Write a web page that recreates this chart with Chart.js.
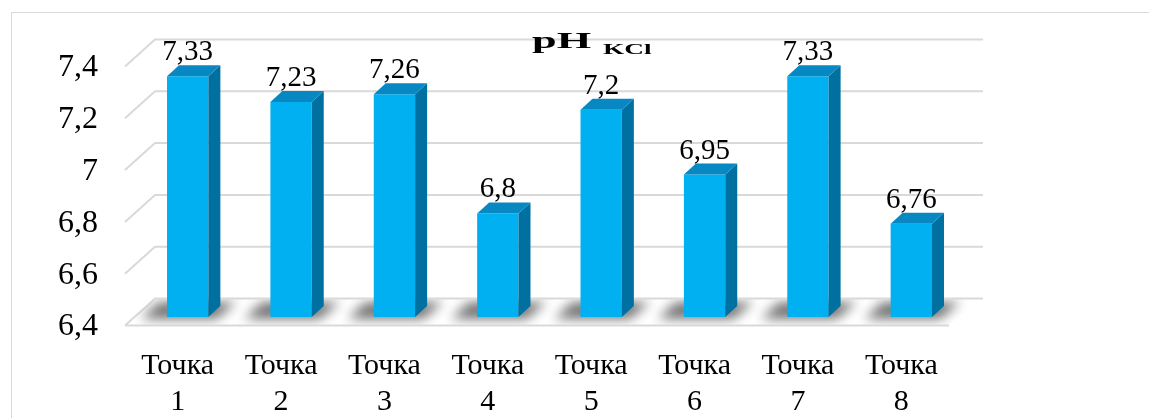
<!DOCTYPE html>
<html><head><meta charset="utf-8">
<script src="https://cdn.jsdelivr.net/npm/chart.js@4/dist/chart.umd.min.js"></script>
<style>html,body{margin:0;padding:0;background:#fff;overflow:hidden;} canvas{display:block;}</style>
</head><body>
<canvas id="c" width="1149" height="418"></canvas>
<script>
const categories = [["Точка","1"],["Точка","2"],["Точка","3"],["Точка","4"],["Точка","5"],["Точка","6"],["Точка","7"],["Точка","8"]];
const phValues = [7.33, 7.23, 7.26, 6.8, 7.2, 6.95, 7.33, 6.76];
const yTicks = [6.4, 6.6, 6.8, 7, 7.2, 7.4];
const titleMain = "pH";
const titleSub = "KCl";

const fmt = v => String(v).replace('.', ',');
const SERIF = '"Liberation Serif", "Times New Roman", serif';

const threeD = {
  id: 'threeD',
  beforeDraw(chart) {
    const ctx = chart.ctx;
    ctx.save();
    ctx.strokeStyle = '#d9d9d9'; ctx.lineWidth = 1;
    ctx.strokeRect(11.5, 12.5, 1300, 600);
    ctx.restore();
  },
  beforeDatasetsDraw(chart) {
    const {ctx, chartArea: a, scales: {y}} = chart;
    ctx.save();
    ctx.strokeStyle = '#d9d9d9'; ctx.lineWidth = 2;
    yTicks.forEach(v => {
      const py = y.getPixelForValue(v);
      const by = py - 18.5, fy = py + 8.5;
      ctx.beginPath();
      ctx.moveTo(a.left - 11, fy); ctx.lineTo(a.left + 19, by); ctx.lineTo(a.right + 20, by);
      ctx.stroke();
    });
    const p0 = y.getPixelForValue(yTicks[0]);
    ctx.beginPath(); ctx.moveTo(a.left - 11, p0 + 8.5); ctx.lineTo(a.right - 14, p0 + 8.5); ctx.stroke();
    // shadows on floor
    ctx.beginPath();
    ctx.moveTo(a.left - 10, p0 + 7.5); ctx.lineTo(a.right - 14, p0 + 7.5);
    ctx.lineTo(a.right + 20, p0 - 17.5); ctx.lineTo(a.left + 19, p0 - 17.5); ctx.closePath();
    ctx.clip();
    const meta = chart.getDatasetMeta(0);
    ctx.filter = 'blur(6px)';
    ctx.fillStyle = 'rgba(0,0,0,0.55)';
    meta.data.forEach(bar => {
      const l = bar.x - bar.width / 2, r = bar.x + bar.width / 2, b = p0;
      ctx.beginPath();
      ctx.moveTo(l - 26, b + 2); ctx.lineTo(r + 8, b + 2);
      ctx.lineTo(r + 28, b - 15); ctx.lineTo(l - 8, b - 15); ctx.closePath();
      ctx.fill();
    });
    ctx.restore();
  },
  afterDatasetsDraw(chart) {
    const {ctx, scales: {y}} = chart;
    const meta = chart.getDatasetMeta(0);
    const p0 = y.getPixelForValue(yTicks[0]);
    const dx = 12, dy = -11;
    ctx.save();
    meta.data.forEach((bar, i) => {
      const l = bar.x - bar.width / 2, r = bar.x + bar.width / 2, t = bar.y, b = p0;
      ctx.fillStyle = '#0070a0';
      ctx.beginPath();
      ctx.moveTo(r, t); ctx.lineTo(r + dx, t + dy); ctx.lineTo(r + dx, b + dy); ctx.lineTo(r, b); ctx.closePath(); ctx.fill();
      ctx.fillStyle = '#0888c2';
      ctx.beginPath();
      ctx.moveTo(l, t); ctx.lineTo(l + dx, t + dy); ctx.lineTo(r + dx, t + dy); ctx.lineTo(r, t); ctx.closePath(); ctx.fill();
      ctx.fillStyle = '#000';
      ctx.font = '29px ' + SERIF;
      ctx.textAlign = 'center'; ctx.textBaseline = 'alphabetic';
      ctx.fillText(fmt(phValues[i]), bar.x, t - 16);
    });
    // title
    ctx.fillStyle = '#000';
    ctx.textAlign = 'left';
    ctx.save();
    ctx.translate(532, 48); ctx.scale(1.85, 1);
    ctx.font = 'bold 24px ' + SERIF;
    ctx.fillText(titleMain, 0, 0);
    ctx.restore();
    ctx.save();
    ctx.translate(603, 54); ctx.scale(1.95, 1);
    ctx.font = 'bold 14px ' + SERIF;
    ctx.fillText(titleSub, 0, 0);
    ctx.restore();
    ctx.restore();
  }
};

new Chart(document.getElementById('c'), {
  type: 'bar',
  data: {
    labels: categories,
    datasets: [{
      data: phValues,
      base: yTicks[0],
      backgroundColor: '#00b0f0',
      borderWidth: 0,
      barPercentage: 0.4,
      categoryPercentage: 1.0
    }]
  },
  options: {
    responsive: false,
    animation: false,
    devicePixelRatio: 1,
    layout: {padding: {left: 0, right: 186, top: 58, bottom: 0}},
    plugins: {legend: {display: false}, tooltip: {enabled: false}, title: {display: false}},
    scales: {
      y: {
        min: 6.4, max: 7.4,
        afterBuildTicks: s => { s.ticks = yTicks.map(v => ({value: v})); },
        afterFit: s => { s.width = 136; },
        grid: {display: false, drawTicks: false},
        border: {display: false},
        ticks: {color: '#000', font: {family: SERIF, size: 32}, padding: 38, labelOffset: 10, callback: v => fmt(v)}
      },
      x: {
        afterFit: s => { s.height = 101; },
        grid: {display: false, drawTicks: false},
        border: {display: false},
        ticks: {color: '#000', font: {family: SERIF, size: 30, lineHeight: 1.2}, padding: 31, labelOffset: -10, maxRotation: 0, autoSkip: false}
      }
    }
  },
  plugins: [threeD]
});
</script>
</body></html>
